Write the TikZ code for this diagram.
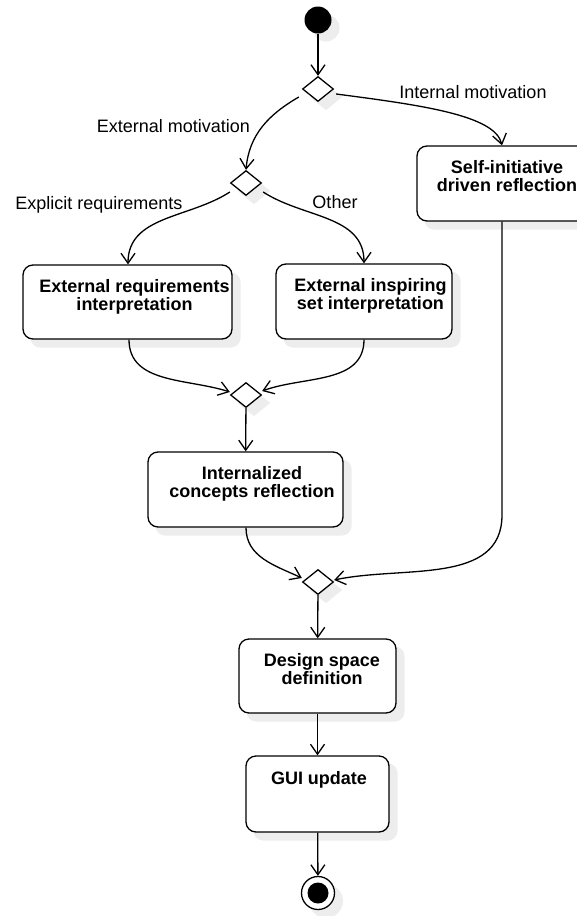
\documentclass[tikz,border=0pt]{standalone}
\usepackage{fontspec}
\setmainfont{Liberation Sans}
\usetikzlibrary{shapes.geometric,arrows.meta,backgrounds}

\definecolor{shadowgray}{HTML}{EDEDED}

\begin{document}
\begin{tikzpicture}[x=1pt,y=1pt,
  line width=1.3pt,
  action/.style={draw,rounded corners=10pt,fill=white,inner sep=0pt},
  choice/.style={draw,diamond,fill=white,minimum width=31pt,minimum height=25pt,inner sep=0pt},
  caption/.style={font=\fontsize{18}{18}\selectfont\bfseries,align=center,anchor=base,inner sep=0pt},
  guard/.style={font=\fontsize{18}{18}\selectfont,anchor=base,inner sep=0pt},
  flow/.style={-{Straight Barb[length=10pt,width=14pt]}},
  shadowtone/.style={fill=shadowgray,draw=none},
]
\useasboundingbox (0,0) rectangle (577,-916);

% initial and final states
\node[circle,fill=black,minimum size=27pt,inner sep=0pt] (start) at (318,-20) {};
\node[circle,draw,fill=white,minimum size=33pt,inner sep=0pt] (finish) at (318,-893) {};
\node[circle,fill=black,minimum size=21pt,inner sep=0pt] (finishcore) at (finish) {};

% decision / merge points
\node[choice] (d1) at (318,-89) {};
\node[choice] (d2) at (246,-183) {};
\node[choice] (d3) at (246,-395) {};
\node[choice] (d4) at (318,-582) {};

% activities (caption nodes sit on the baseline of their last line)
\node[action,minimum width=170pt,minimum height=75pt] (self) at (502,-183.5) {};
\node[caption] (selftext) at (507,-191) {Self-initiative\\driven reflection};

\node[action,minimum width=209pt,minimum height=74pt] (ereq) at (127.5,-302) {};
\node[caption] (ereqtext) at (134.5,-310) {External requirements\\interpretation};

\node[action,minimum width=176pt,minimum height=75pt] (einsp) at (364,-301.5) {};
\node[caption] (einsptext) at (370.5,-309) {External inspiring\\set interpretation};

\node[action,minimum width=195pt,minimum height=75pt] (intern) at (245.5,-489.5) {};
\node[caption] (interntext) at (252,-497) {Internalized\\concepts reflection};

\node[action,minimum width=157pt,minimum height=74pt] (design) at (317.5,-676) {};
\node[caption] (designtext) at (322,-684) {Design space\\definition};

\node[action,minimum width=143pt,minimum height=76pt] (gui) at (317.5,-794) {};
\node[caption] (guitext) at (319,-784) {GUI update};

% drop shadows behind every shape (offset down and to the right)
\begin{scope}[on background layer]
  \foreach \n in {self,ereq,einsp,intern,design,gui}
    \path[shadowtone,rounded corners=10pt] ([shift={(8,-8)}]\n.south west) rectangle ([shift={(8,-8)}]\n.north east);
  \foreach \n in {d1,d2,d3,d4}
    \path[shadowtone] ([shift={(8,-8)}]\n.north) -- ([shift={(8,-8)}]\n.east) -- ([shift={(8,-8)}]\n.south) -- ([shift={(8,-8)}]\n.west) -- cycle;
  \path[shadowtone] ([shift={(8,-8)}]start.center) circle (13.5pt);
  \path[shadowtone] ([shift={(8,-8)}]finish.center) circle (17pt);
\end{scope}

% guard labels
\node[guard] (lblint) at (473,-98) {Internal motivation};
\node[guard] (lblext) at (173.5,-132) {External motivation};
\node[guard] (lblexp) at (99,-209) {Explicit requirements};
\node[guard] (lbloth) at (335,-208) {Other};

% control flow
\draw[flow] (start) -- (d1);
\draw[flow] ([shift={(-3,-8)}]d1.west) to[out=210,in=85] (d2.north);
\draw[flow] ([shift={(2,-5)}]d1.east) .. controls (420,-105) and (495,-115) .. (self.north);
\draw[flow] ([shift={(0,-9)}]d2.west) to[out=213,in=90] ([xshift=0.5pt]ereq.north);
\draw[flow] ([shift={(1,-9)}]d2.east) to[out=-33,in=90] (einsp.north);
\draw[flow] ([xshift=1.5pt]ereq.south) to[out=-90,in=162] ([yshift=3pt]d3.west);
\draw[flow] (einsp.south) to[out=-90,in=20] ([yshift=4pt]d3.east);
\draw[flow] (d3) -- (intern);
\draw[flow] ([xshift=0.5pt]intern.south) to[out=-90,in=155] ([yshift=4pt]d4.west);
\coordinate (selfturn) at (502,-515);
\draw[flow] (self.south) -- (selfturn) to[out=-90,in=12] ([yshift=2pt]d4.east);
\draw[flow] (d4) -- (design);
\draw[flow] (design) -- (gui);
\draw[flow] (gui) -- (finish);
\end{tikzpicture}
\end{document}
